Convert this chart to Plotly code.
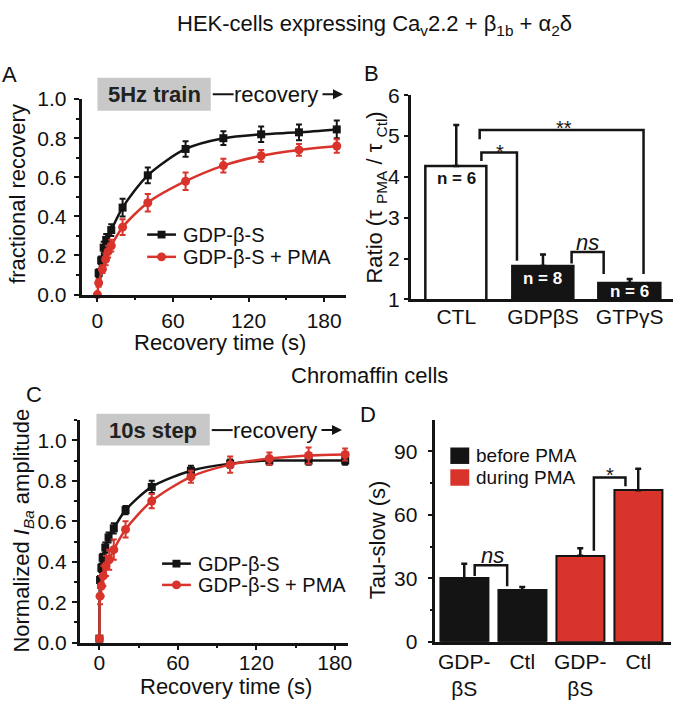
import plotly.graph_objects as go

W, H = 682, 714
FONT = "Liberation Sans, Arial, Helvetica, sans-serif"
BLACK = "#141414"
RED = "#d8342c"

# ---------------- data ----------------
# Panel A (HEK cells, 5 Hz train)
a_t_gdp = [1, 3, 5, 7, 11, 20, 40, 70, 100, 130, 160, 190]
a_y_gdp = [0.11, 0.175, 0.24, 0.28, 0.33, 0.445, 0.61, 0.745, 0.80, 0.82, 0.83, 0.845]
a_e_gdp = [0.02, 0.02, 0.03, 0.03, 0.03, 0.045, 0.04, 0.04, 0.035, 0.04, 0.04, 0.045]
a_t_pma = [0, 1, 4, 6.5, 8.5, 11, 20, 40, 70, 100, 130, 160, 190]
a_y_pma = [0.0, 0.06, 0.13, 0.18, 0.22, 0.25, 0.345, 0.47, 0.58, 0.66, 0.71, 0.74, 0.76]
a_e_pma = [0.01, 0.02, 0.02, 0.03, 0.03, 0.03, 0.04, 0.045, 0.045, 0.035, 0.03, 0.03, 0.035]

# Panel B (ratio of tau)
b_cats = ["CTL", "GDPβS", "GTPγS"]
b_vals = [4.27, 1.82, 1.40]
b_err = [1.0, 0.28, 0.10]
b_n = ["n = 6", "n = 8", "n = 6"]

# Panel C (chromaffin cells, 10 s step)
c_t_gdp = [0, 0.5, 1.5, 2.5, 4.5, 7, 11, 20, 40, 70, 100, 130, 160, 188]
c_y_gdp = [0.02, 0.31, 0.37, 0.42, 0.47, 0.52, 0.565, 0.655, 0.77, 0.85, 0.885, 0.90, 0.90, 0.90]
c_e_gdp = [0.01, 0.02, 0.02, 0.02, 0.025, 0.025, 0.025, 0.02, 0.03, 0.025, 0.02, 0.02, 0.02, 0.02]
c_t_pma = [0, 0.5, 1.5, 3, 5, 7.5, 11, 20, 40, 70, 100, 130, 160, 188]
c_y_pma = [0.02, 0.23, 0.28, 0.33, 0.38, 0.41, 0.46, 0.56, 0.70, 0.82, 0.88, 0.91, 0.925, 0.93]
c_e_pma = [0.01, 0.04, 0.05, 0.05, 0.05, 0.05, 0.05, 0.04, 0.035, 0.03, 0.04, 0.03, 0.04, 0.03]

# Panel D (tau-slow)
d_cats = ["GDP-<br>βS", "Ctl", "GDP-<br>βS", "Ctl"]
d_before = [29.9, 24.3]
d_before_err = [7.0, 1.6]
d_during = [40.7, 71.6]
d_during_err = [3.5, 10.2]


def px(p):
    return p / W


def py(p):
    return 1 - p / H


fig = go.Figure()


def curve(x, y, e, color, symbol, size, xa, ya, name):
    fig.add_trace(go.Scatter(
        x=x, y=y, mode="lines+markers", name=name,
        xaxis=xa, yaxis=ya, cliponaxis=False, showlegend=False,
        line=dict(color=color, width=2.5, shape="spline", smoothing=0.8),
        marker=dict(color=color, symbol=symbol, size=size),
        error_y=dict(type="data", array=e, color=color, thickness=2, width=3),
    ))


curve(a_t_gdp, a_y_gdp, a_e_gdp, BLACK, "square", 8, "x", "y", "GDP-β-S")
curve(a_t_pma, a_y_pma, a_e_pma, RED, "circle", 9, "x", "y", "GDP-β-S + PMA")
curve(c_t_gdp, c_y_gdp, c_e_gdp, BLACK, "square", 8, "x3", "y3", "GDP-β-S")
curve(c_t_pma, c_y_pma, c_e_pma, RED, "circle", 9, "x3", "y3", "GDP-β-S + PMA")

# Panel B bars
b_idx = list(range(len(b_cats)))
fig.add_trace(go.Bar(
    x=b_idx, y=b_vals, width=0.71, xaxis="x2", yaxis="y2", showlegend=False,
    marker=dict(color=["white", BLACK, BLACK], line=dict(color=BLACK, width=2.5)),
    error_y=dict(type="data", symmetric=False, array=b_err, arrayminus=[0] * 3,
                 color=BLACK, thickness=2.5, width=3),
))

# Panel D bars
fig.add_trace(go.Bar(
    x=[0, 1], y=d_before, width=0.83, xaxis="x4", yaxis="y4", name="before PMA", showlegend=False,
    marker=dict(color=BLACK, line=dict(color=BLACK, width=2)),
    error_y=dict(type="data", symmetric=False, array=d_before_err, arrayminus=[0, 0],
                 color=BLACK, thickness=2.5, width=3),
))
fig.add_trace(go.Bar(
    x=[2, 3], y=d_during, width=0.83, xaxis="x4", yaxis="y4", name="during PMA", showlegend=False,
    marker=dict(color=RED, line=dict(color=BLACK, width=2)),
    error_y=dict(type="data", symmetric=False, array=d_during_err, arrayminus=[0, 0],
                 color=BLACK, thickness=2.5, width=3),
))

tickfont = dict(family=FONT, size=21, color="#111")
axline = dict(showline=True, linecolor=BLACK, linewidth=2.5, showgrid=False, zeroline=False,
              tickfont=tickfont, tickcolor=BLACK, tickwidth=2)
minor_x = dict(ticks="outside", ticklen=3, dtick=30, tickcolor=BLACK, tickwidth=1.5)

fig.update_layout(
    width=W, height=H, margin=dict(l=0, r=0, t=0, b=0),
    paper_bgcolor="white", plot_bgcolor="rgba(0,0,0,0)", bargap=0,
    font=dict(family=FONT, color="#111"),
    xaxis=dict(domain=[px(82), px(348)], range=[-12.6, 197.3], anchor="y",
               tickvals=[0, 60, 120, 180], ticks="outside", ticklen=5,
               minor=minor_x, **axline),
    yaxis=dict(domain=[py(292), py(90)], range=[0, 1.0], anchor="x",
               tickvals=[0, 0.2, 0.4, 0.6, 0.8, 1.0], ticktext=["0.0", "0.2", "0.4", "0.6", "0.8", "1.0"],
               ticks="outside", ticklen=5, ticklabelstandoff=3,
               minor=dict(ticks="outside", ticklen=3, dtick=0.1, tickcolor=BLACK, tickwidth=1.5),
               **axline),
    xaxis2=dict(domain=[px(413), px(677)], range=[-0.527, 2.5], anchor="y2",
                tickvals=b_idx, ticktext=b_cats, ticks="outside", ticklen=4, ticklabelstandoff=-7,
                **{**axline, "tickcolor": "rgba(0,0,0,0)"}),
    yaxis2=dict(domain=[py(297), py(86)], range=[1, 6], anchor="x2",
                tickvals=[1, 2, 3, 4, 5, 6], ticks="outside", ticklen=4, **axline),
    xaxis3=dict(domain=[px(80), px(350)], range=[-15.2, 190.1], anchor="y3",
                tickvals=[0, 60, 120, 180], ticks="outside", ticklen=5, ticklabelstandoff=-6,
                minor=minor_x, **axline),
    yaxis3=dict(domain=[py(651.7), py(421.7)], range=[0, 1.1], anchor="x3",
                tickvals=[0, 0.2, 0.4, 0.6, 0.8, 1.0], ticktext=["0.0", "0.2", "0.4", "0.6", "0.8", "1.0"],
                ticks="outside", ticklen=5, ticklabelstandoff=1,
                minor=dict(ticks="outside", ticklen=3, dtick=0.1, tickcolor=BLACK, tickwidth=1.5),
                **axline),
    xaxis4=dict(domain=[px(438), px(675)], range=[-0.497, 3.566], anchor="y4",
                tickvals=[0, 1, 2, 3], ticktext=d_cats, ticks="outside", ticklen=4, ticklabelstandoff=-5,
                **{**axline, "tickcolor": "rgba(0,0,0,0)"}),
    yaxis4=dict(domain=[py(650.7), py(421.7)], range=[0, 104.8], anchor="x4",
                tickvals=[0, 30, 60, 90], ticks="outside", ticklen=5, ticklabelstandoff=6,
                minor=dict(ticks="outside", ticklen=3, dtick=15, tickcolor=BLACK, tickwidth=1.5),
                **axline),
)

shapes = []
anns = []


def ptext(text, x, y, size=22, angle=0, bold=False, color="#111", xanchor="center", italic=False):
    t = text
    if bold:
        t = "<b>" + t + "</b>"
    if italic:
        t = "<i>" + t + "</i>"
    anns.append(dict(text=t, x=px(x), y=py(y), xref="paper", yref="paper", showarrow=False,
                     textangle=angle, xanchor=xanchor, yanchor="middle",
                     font=dict(family=FONT, size=size, color=color)))


# Titles
ptext("HEK-cells expressing Ca<sub>v</sub>2.2 + β<sub>1b</sub> + α<sub>2</sub>δ", 377, 13, size=22)
ptext("Chromaffin cells", 371.5, 376, size=22)

# Panel letters
ptext("A", 10, 65, size=22)
ptext("B", 374, 64, size=22)
ptext("C", 34, 395, size=22)
ptext("D", 370, 416, size=22)

# Axis titles
ptext("fractional recovery", 18, 188, angle=-90)
ptext("Recovery time (s)", 221, 342)
ptext("Ratio (τ <sub>PMA</sub> / τ <sub>Ctl</sub>)", 378, 192, angle=-90)
ptext("Normalized <i>I</i><sub><i>Ba</i></sub> amplitude", 23, 536, angle=-90)
ptext("Recovery time (s)", 227, 697)
ptext("Tau-slow (s)", 380, 545, angle=-90)

# Protocol boxes
for (x0, x1, y0, y1, label, yc) in [(98, 212, 68, 102, "5Hz train", 85),
                                    (97, 211, 415, 448, "10s step", 432)]:
    shapes.append(dict(type="rect", xref="paper", yref="paper", x0=px(x0), x1=px(x1),
                       y0=py(y1), y1=py(y0), fillcolor="#c8c8c8", line=dict(width=0), layer="below"))
    ptext(label, (x0 + x1) / 2, yc, size=22, bold=True, color="#222")
    shapes.append(dict(type="line", xref="paper", yref="paper", x0=px(x1 + 2), x1=px(x1 + 23),
                       y0=py(yc), y1=py(yc), line=dict(color=BLACK, width=2)))
    ptext("recovery", x1 + 66, yc, size=22)
    anns.append(dict(x=px(x1 + 133), y=py(yc), ax=-22, ay=0, xref="paper", yref="paper",
                     axref="pixel", ayref="pixel", text="", showarrow=True,
                     arrowhead=2, arrowsize=1, arrowwidth=2, arrowcolor=BLACK))

# Legends for A and C (line + marker samples)
for (lx, ly0, gap) in [(148, 230, 23), (163, 570, 22)]:
    for k, (col, sym, name) in enumerate([(BLACK, "sq", "GDP-β-S"), (RED, "ci", "GDP-β-S + PMA")]):
        yy = ly0 + k * gap
        shapes.append(dict(type="line", xref="paper", yref="paper", x0=px(lx), x1=px(lx + 29),
                           y0=py(yy), y1=py(yy), line=dict(color=col, width=2.5)))
        cx = lx + 14.5
        if sym == "sq":
            shapes.append(dict(type="rect", xref="paper", yref="paper", x0=px(cx - 4), x1=px(cx + 4),
                               y0=py(yy + 4), y1=py(yy - 4), fillcolor=col, line=dict(width=0)))
        else:
            shapes.append(dict(type="circle", xref="paper", yref="paper", x0=px(cx - 4.5), x1=px(cx + 4.5),
                               y0=py(yy + 4.5), y1=py(yy - 4.5), fillcolor=col, line=dict(width=0)))
        ptext(name, lx + 34, yy, size=20, xanchor="left")

# Legend D
for k, (col, name) in enumerate([(BLACK, "before PMA"), (RED, "during PMA")]):
    yc = 458.5 + k * 22.5
    shapes.append(dict(type="rect", xref="paper", yref="paper", x0=px(453), x1=px(472),
                       y0=py(yc + 8.5), y1=py(yc - 8.5), fillcolor=col, line=dict(width=0)))
    ptext(name, 477, yc, size=19, xanchor="left")

# n labels inside B bars
n_y = [3.97, 1.52, 1.19]
for i, (t, yv) in enumerate(zip(b_n, n_y)):
    anns.append(dict(text="<b>" + t + "</b>", x=i, y=yv, xref="x2", yref="y2", showarrow=False,
                     font=dict(family=FONT, size=17, color=BLACK if i == 0 else "white")))

# Significance brackets
brk = dict(color=BLACK, width=2.5)
for path, xr, yr in [
    ("M0.29,4.39 L0.29,4.60 L0.70,4.60 L0.70,1.95", "x2", "y2"),
    ("M0.27,4.92 L0.27,5.15 L2.16,5.15 L2.16,1.62", "x2", "y2"),
    ("M1.33,1.88 L1.33,2.16 L1.70,2.16 L1.70,1.62", "x2", "y2"),
    ("M0.18,31.1 L0.18,36.2 L0.74,36.2 L0.74,26.3", "x4", "y4"),
    ("M2.235,43.0 L2.235,77.7 L2.78,77.7 L2.78,73.5", "x4", "y4"),
]:
    shapes.append(dict(type="path", path=path, xref=xr, yref=yr, line=brk))

for text, x, y, xr, yr, size, it in [
    ("*", 0.50, 4.62, "x2", "y2", 20, False),
    ("**", 1.24, 5.20, "x2", "y2", 20, False),
    ("ns", 1.51, 2.40, "x2", "y2", 22, True),
    ("ns", 0.48, 40.8, "x4", "y4", 22, True),
    ("*", 2.51, 78.8, "x4", "y4", 20, False),
]:
    anns.append(dict(text=("<i>" + text + "</i>") if it else text, x=x, y=y, xref=xr, yref=yr,
                     showarrow=False, font=dict(family=FONT, size=size, color=BLACK)))

fig.update_layout(shapes=shapes, annotations=anns)

fit_js = """
(function(){
  var de = document.documentElement, b = document.body;
  de.style.margin = '0'; de.style.padding = '0'; de.style.overflow = 'hidden';
  b.style.margin = '0'; b.style.padding = '0'; b.style.overflow = 'hidden';
  var gd = document.getElementById('{plot_id}');
  gd.style.position = 'fixed'; gd.style.left = '0px'; gd.style.top = '0px';
  gd.style.zIndex = '1000'; gd.style.background = 'white';
  var w = window.innerWidth, h = window.innerHeight;
  if (w > 200 && h > 200 && (w !== 682 || h !== 714)) {
    gd.style.width = w + 'px'; gd.style.height = h + 'px';
    Plotly.relayout(gd, {width: w, height: h});
  }
})();
"""

fig.write_html("out.html", config={"displayModeBar": False}, post_script=fit_js)
